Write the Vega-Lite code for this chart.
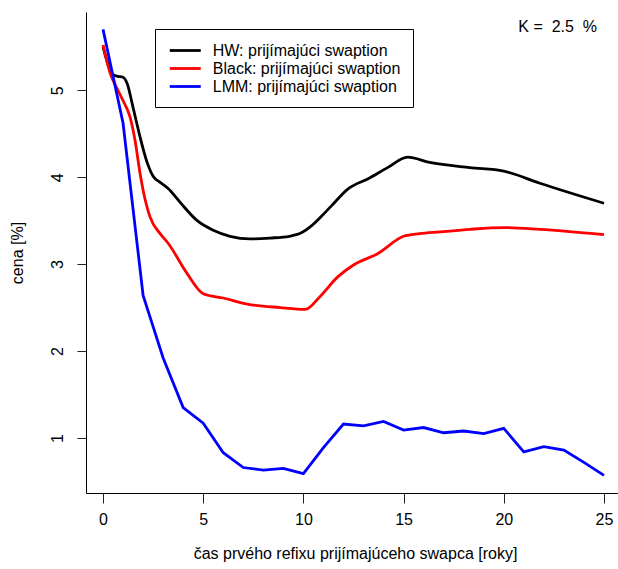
{
  "$schema": "https://vega.github.io/schema/vega-lite/v6.json",
  "autosize": "none",
  "width": 538,
  "height": 481,
  "padding": {"left": 86, "top": 12, "right": 0, "bottom": 76},
  "background": "white",
  "config": {
    "view": {"stroke": null},
    "font": "Liberation Sans",
    "axis": {"grid": false, "domainColor": "black", "tickColor": "#222", "labelColor": "black", "titleColor": "black", "labelFont": "Liberation Sans", "titleFont": "Liberation Sans", "labelFontSize": 16, "titleFontSize": 16, "titleFontWeight": "normal", "domainWidth": 1, "tickWidth": 1}
  },
  "datasets": {
    "smooth": [
      {"model": "HW: prijímajúci swaption", "t": 0, "price": 5.50},
      {"model": "HW: prijímajúci swaption", "t": 0.25, "price": 5.30},
      {"model": "HW: prijímajúci swaption", "t": 0.5, "price": 5.18},
      {"model": "HW: prijímajúci swaption", "t": 0.75, "price": 5.16},
      {"model": "HW: prijímajúci swaption", "t": 1.0, "price": 5.15},
      {"model": "HW: prijímajúci swaption", "t": 1.2, "price": 5.08},
      {"model": "HW: prijímajúci swaption", "t": 1.5, "price": 4.80},
      {"model": "HW: prijímajúci swaption", "t": 1.85, "price": 4.46},
      {"model": "HW: prijímajúci swaption", "t": 2.2, "price": 4.17},
      {"model": "HW: prijímajúci swaption", "t": 2.5, "price": 4.01},
      {"model": "HW: prijímajúci swaption", "t": 2.85, "price": 3.94},
      {"model": "HW: prijímajúci swaption", "t": 3.25, "price": 3.87},
      {"model": "HW: prijímajúci swaption", "t": 3.85, "price": 3.71},
      {"model": "HW: prijímajúci swaption", "t": 4.7, "price": 3.50},
      {"model": "HW: prijímajúci swaption", "t": 5.5, "price": 3.39},
      {"model": "HW: prijímajúci swaption", "t": 6.34, "price": 3.32},
      {"model": "HW: prijímajúci swaption", "t": 7.34, "price": 3.29},
      {"model": "HW: prijímajúci swaption", "t": 8.34, "price": 3.30},
      {"model": "HW: prijímajúci swaption", "t": 9.3, "price": 3.32},
      {"model": "HW: prijímajúci swaption", "t": 9.9, "price": 3.36},
      {"model": "HW: prijímajúci swaption", "t": 10.4, "price": 3.44},
      {"model": "HW: prijímajúci swaption", "t": 10.9, "price": 3.55},
      {"model": "HW: prijímajúci swaption", "t": 11.4, "price": 3.67},
      {"model": "HW: prijímajúci swaption", "t": 12.2, "price": 3.86},
      {"model": "HW: prijímajúci swaption", "t": 13.3, "price": 3.99},
      {"model": "HW: prijímajúci swaption", "t": 14.2, "price": 4.11},
      {"model": "HW: prijímajúci swaption", "t": 15.2, "price": 4.23},
      {"model": "HW: prijímajúci swaption", "t": 16.3, "price": 4.17},
      {"model": "HW: prijímajúci swaption", "t": 18.3, "price": 4.11},
      {"model": "HW: prijímajúci swaption", "t": 20, "price": 4.07},
      {"model": "HW: prijímajúci swaption", "t": 21.8, "price": 3.93},
      {"model": "HW: prijímajúci swaption", "t": 25, "price": 3.70},
      {"model": "Black: prijímajúci swaption", "t": 0, "price": 5.52},
      {"model": "Black: prijímajúci swaption", "t": 0.35, "price": 5.20},
      {"model": "Black: prijímajúci swaption", "t": 0.7, "price": 5.02},
      {"model": "Black: prijímajúci swaption", "t": 1.0, "price": 4.88},
      {"model": "Black: prijímajúci swaption", "t": 1.35, "price": 4.69},
      {"model": "Black: prijímajúci swaption", "t": 1.6, "price": 4.42},
      {"model": "Black: prijímajúci swaption", "t": 1.85, "price": 4.04},
      {"model": "Black: prijímajúci swaption", "t": 2.0, "price": 3.85},
      {"model": "Black: prijímajúci swaption", "t": 2.35, "price": 3.54},
      {"model": "Black: prijímajúci swaption", "t": 2.85, "price": 3.35},
      {"model": "Black: prijímajúci swaption", "t": 3.25, "price": 3.24},
      {"model": "Black: prijímajúci swaption", "t": 4.2, "price": 2.89},
      {"model": "Black: prijímajúci swaption", "t": 5.0, "price": 2.66},
      {"model": "Black: prijímajúci swaption", "t": 6.0, "price": 2.61},
      {"model": "Black: prijímajúci swaption", "t": 7.2, "price": 2.54},
      {"model": "Black: prijímajúci swaption", "t": 8.84, "price": 2.50},
      {"model": "Black: prijímajúci swaption", "t": 10.1, "price": 2.48},
      {"model": "Black: prijímajúci swaption", "t": 10.8, "price": 2.62},
      {"model": "Black: prijímajúci swaption", "t": 11.7, "price": 2.85},
      {"model": "Black: prijímajúci swaption", "t": 12.5, "price": 2.99},
      {"model": "Black: prijímajúci swaption", "t": 13.7, "price": 3.12},
      {"model": "Black: prijímajúci swaption", "t": 15.0, "price": 3.32},
      {"model": "Black: prijímajúci swaption", "t": 15.8, "price": 3.35},
      {"model": "Black: prijímajúci swaption", "t": 16.8, "price": 3.37},
      {"model": "Black: prijímajúci swaption", "t": 18.3, "price": 3.40},
      {"model": "Black: prijímajúci swaption", "t": 20, "price": 3.42},
      {"model": "Black: prijímajúci swaption", "t": 21.8, "price": 3.40},
      {"model": "Black: prijímajúci swaption", "t": 25, "price": 3.34}
    ],
    "lmm": [
      {"model": "LMM: prijímajúci swaption", "t": 0, "price": 5.70},
      {"model": "LMM: prijímajúci swaption", "t": 1, "price": 4.62},
      {"model": "LMM: prijímajúci swaption", "t": 2, "price": 2.64},
      {"model": "LMM: prijímajúci swaption", "t": 3, "price": 1.92},
      {"model": "LMM: prijímajúci swaption", "t": 4, "price": 1.35},
      {"model": "LMM: prijímajúci swaption", "t": 5, "price": 1.17},
      {"model": "LMM: prijímajúci swaption", "t": 6, "price": 0.83},
      {"model": "LMM: prijímajúci swaption", "t": 7, "price": 0.66},
      {"model": "LMM: prijímajúci swaption", "t": 8, "price": 0.63},
      {"model": "LMM: prijímajúci swaption", "t": 9, "price": 0.65},
      {"model": "LMM: prijímajúci swaption", "t": 10, "price": 0.59},
      {"model": "LMM: prijímajúci swaption", "t": 11, "price": 0.89},
      {"model": "LMM: prijímajúci swaption", "t": 12, "price": 1.16},
      {"model": "LMM: prijímajúci swaption", "t": 13, "price": 1.14},
      {"model": "LMM: prijímajúci swaption", "t": 14, "price": 1.19},
      {"model": "LMM: prijímajúci swaption", "t": 15, "price": 1.09},
      {"model": "LMM: prijímajúci swaption", "t": 16, "price": 1.12},
      {"model": "LMM: prijímajúci swaption", "t": 17, "price": 1.06},
      {"model": "LMM: prijímajúci swaption", "t": 18, "price": 1.08},
      {"model": "LMM: prijímajúci swaption", "t": 19, "price": 1.05},
      {"model": "LMM: prijímajúci swaption", "t": 20, "price": 1.11},
      {"model": "LMM: prijímajúci swaption", "t": 21, "price": 0.84},
      {"model": "LMM: prijímajúci swaption", "t": 22, "price": 0.90},
      {"model": "LMM: prijímajúci swaption", "t": 23, "price": 0.86},
      {"model": "LMM: prijímajúci swaption", "t": 24, "price": 0.72},
      {"model": "LMM: prijímajúci swaption", "t": 25, "price": 0.57}
    ],
    "label": [
      {"t": 22.69, "price": 5.725, "text": "K =\u00a0 2.5 \u00a0%"}
    ]
  },
  "encoding": {
    "x": {"field": "t", "type": "quantitative", "scale": {"domain": [-0.85, 26], "nice": false, "zero": false},
      "axis": {"values": [0, 5, 10, 15, 20, 25], "title": "čas prvého refixu prijímajúceho swapca [roky]", "tickSize": 10, "labelPadding": 8, "titlePadding": 18, "labelFlush": false}},
    "y": {"field": "price", "type": "quantitative", "scale": {"domain": [0.367, 5.9], "nice": false, "zero": false},
      "axis": {"values": [1, 2, 3, 4, 5], "title": "cena [%]", "tickSize": 9, "labelAngle": -90, "labelAlign": "center", "labelBaseline": "bottom", "labelPadding": 12, "titlePadding": 24, "labelFlush": false}}
  },
  "layer": [
    {
      "data": {"name": "smooth"},
      "mark": {"type": "line", "interpolate": "monotone", "strokeWidth": 2.8},
      "encoding": {
        "color": {"field": "model", "type": "nominal",
          "scale": {"domain": ["HW: prijímajúci swaption", "Black: prijímajúci swaption", "LMM: prijímajúci swaption"], "range": ["#000000", "#ff0000", "#0000ff"]},
          "legend": {"title": null, "orient": "none", "legendX": 69, "legendY": 17, "strokeColor": "black", "fillColor": "white", "padding": 12, "cornerRadius": 0, "symbolType": "M-2,0H2", "symbolSize": 240, "symbolStrokeWidth": 2.8, "symbolOffset": 8.75, "labelFontSize": 16, "labelFont": "Liberation Sans", "labelColor": "black", "labelOffset": 18, "rowPadding": 0, "labelLimit": 400}
        }
      }
    },
    {
      "data": {"name": "lmm"},
      "mark": {"type": "line", "strokeWidth": 2.8},
      "encoding": {
        "color": {"field": "model", "type": "nominal"}
      }
    },
    {
      "data": {"name": "label"},
      "mark": {"type": "text", "fontSize": 16, "font": "Liberation Sans", "color": "black", "align": "center", "baseline": "middle"},
      "encoding": {"text": {"field": "text"}}
    }
  ]
}
